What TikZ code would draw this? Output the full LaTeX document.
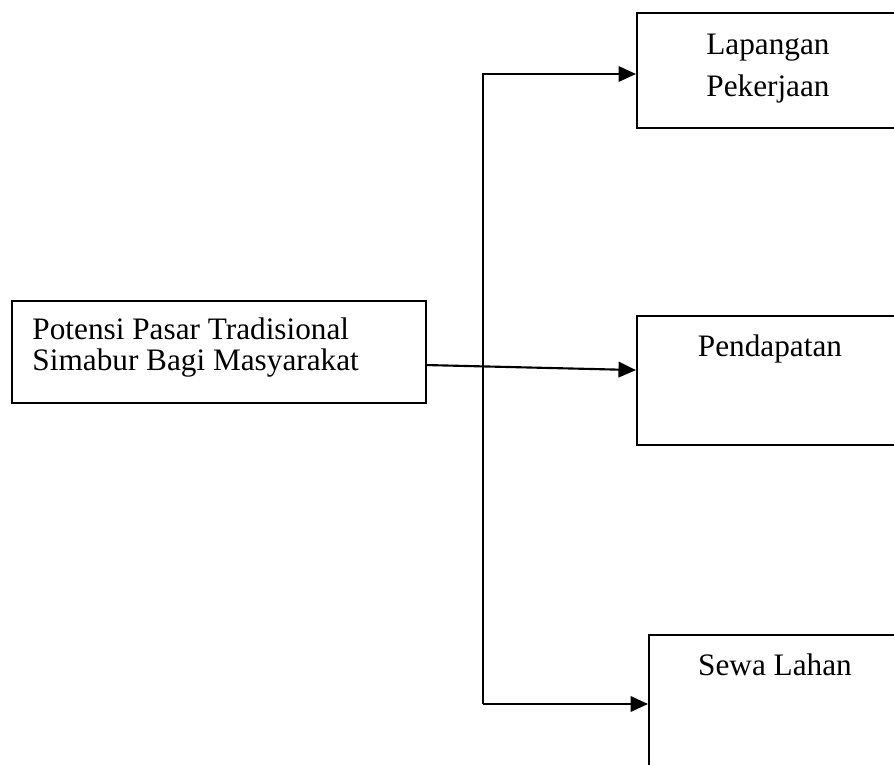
\documentclass[tikz,border=0pt]{standalone}
\usepackage{fontspec}
\setmainfont{Liberation Serif}
\usetikzlibrary{arrows.meta,positioning}

\begin{document}
\begin{tikzpicture}[
    x=0.4pt, y=-0.4pt,
    >={Triangle[length=7pt,width=6.2pt]},
    box/.style={draw,line width=0.85pt,inner sep=0pt,anchor=north west},
    txt/.style={inner sep=0pt,font=\fontsize{12.5}{12.5}\selectfont},
    link/.style={->,line width=0.85pt},
]
\useasboundingbox (0,0) rectangle (894,765);
\clip (0,0) rectangle (894,765);

% === Boxes ===
\node[box,minimum width=165.6pt,minimum height=40.8pt] (potensi) at (11,300) {};
\node[box,minimum width=105.6pt,minimum height=46pt] (kerja) at (636,12) {};
\node[box,minimum width=105.6pt,minimum height=51.6pt] (pendapatan) at (636,315) {};
\node[box,minimum width=105.6pt,minimum height=56pt] (sewa) at (648,634) {};

% === Texts ===
\node[txt,align=left,anchor=north west] (potensi-txt) at (32,317)
    {Potensi Pasar Tradisional\\Simabur Bagi Masyarakat};
\node[txt,align=center,anchor=north,font=\fontsize{12.5}{16.8}\selectfont] (kerja-txt) at (768,34)
    {Lapangan\\Pekerjaan};
\node[txt,anchor=base] (pendapatan-txt) at (770,357) {Pendapatan};
\node[txt,anchor=base] (sewa-txt) at (775,675) {Sewa Lahan};

% === Connectors ===
\coordinate (fork-top) at (483,74);
\coordinate (fork-bot) at (483,704);
\draw[link] ([yshift=-5.2pt]potensi.east) -- ([yshift=4.2pt]pendapatan.west);
\draw[link] (fork-bot) -- (fork-top) -- (fork-top -| kerja.west);
\draw[link] (fork-bot) -- (fork-bot -| sewa.west);
\end{tikzpicture}
\end{document}
